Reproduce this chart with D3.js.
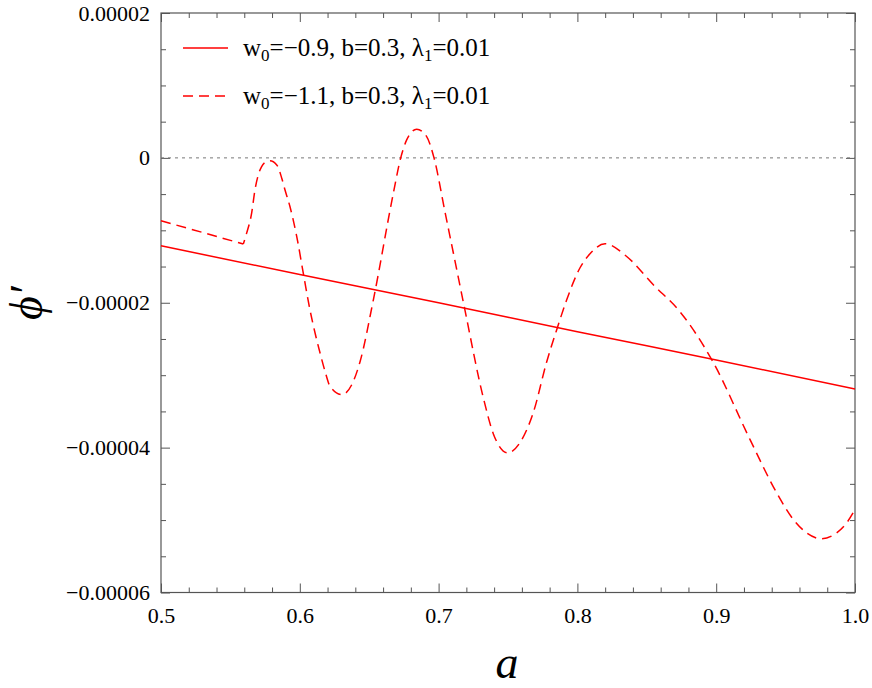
<!DOCTYPE html>
<html>
<head>
<meta charset="utf-8">
<script src="https://cdn.jsdelivr.net/npm/d3@7"></script>
<style>
  body { margin: 0; background: #fff; }
  svg text { font-family: "Liberation Serif", "DejaVu Serif", serif; fill: #000; }
</style>
</head>
<body>
<div id="chart"></div>
<script>
// values, phi' in units of 1e-5
const unit = 1e-5;

const solidA = [0.5, 0.6, 0.7, 0.8, 0.9, 1.0];
const solidV = [-1.214, -1.61, -2.00, -2.40, -2.79, -3.19];

// dashed curve: straight piece up to the kink, then the oscillation
const dashHeadA = [0.5, 0.53, 0.5593];
const dashHeadV = [-0.869, -1.03, -1.19];
const dashA = [0.5593, 0.5617, 0.5653, 0.5677, 0.5701, 0.5725, 0.5762, 0.5785, 0.5834, 0.587, 0.5893,
  0.5929, 0.5978, 0.6025, 0.6073, 0.611, 0.6146, 0.6182, 0.6218, 0.6302, 0.6385, 0.6434, 0.653, 0.6674,
  0.6727, 0.677, 0.6842, 0.6914, 0.6967, 0.7046, 0.7106, 0.7185, 0.7322, 0.7394, 0.7498, 0.7586, 0.7682,
  0.7779, 0.7851, 0.7923, 0.8019, 0.8091, 0.8199, 0.8355, 0.8547, 0.8739, 0.8976, 0.9244, 0.9436, 0.9556,
  0.9652, 0.976, 0.9868, 0.994, 1.0];
const dashV = [-1.19, -1.039, -0.763, -0.441, -0.234, -0.12, -0.051, -0.041, -0.097, -0.28, -0.441,
  -0.672, -1.086, -1.59, -2.097, -2.418, -2.694, -2.948, -3.154, -3.269, -3.088, -2.814, -1.959, -0.487,
  0, 0.248, 0.396, 0.294, 0, -0.745, -1.31, -2.055, -3.31, -3.807, -4.073, -3.931, -3.517,
  -2.814, -2.372, -1.959, -1.517, -1.324, -1.186, -1.361, -1.752, -2.124, -2.814, -3.89, -4.625, -4.993,
  -5.177, -5.259, -5.177, -5.039, -4.855];

const xTicks = [0.5, 0.6, 0.7, 0.8, 0.9, 1.0];
const xTickLabels = ["0.5", "0.6", "0.7", "0.8", "0.9", "1.0"];
const yTicks = [2, 0, -2, -4, -6];
const yTickLabels = ["0.00002", "0", "\u22120.00002", "\u22120.00004", "\u22120.00006"];

const width = 872, height = 688;
const plotLeft = 161, plotRight = 855, plotTop = 13, plotBottom = 592.5;
const serif = '"Liberation Serif", "DejaVu Serif", serif';
const red = "#ff0000";
const dashPattern = "10,6";

let svg = d3.select("#chart").append("svg")
    .attr("width", width).attr("height", height);

let x = d3.scaleLinear().domain([0.5, 1.0]).range([plotLeft, plotRight]);
let y = d3.scaleLinear().domain([-6 * unit, 2 * unit]).range([plotBottom, plotTop]);

const minorX = d3.range(0.5, 1.0001, 0.02).filter(v => Math.abs(v * 10 - Math.round(v * 10)) > 1e-6);
const minorY = d3.range(-6, 2.0001, 0.5).filter(v => v % 2 !== 0).map(v => v * unit);
const axisColor = "#555";

function styleAxis(g) {
    g.attr("font-family", serif).attr("font-size", 22);
    g.select(".domain").remove();
    g.selectAll("line").attr("stroke", axisColor).attr("stroke-width", 1);
    g.selectAll("text").style("font-family", serif).style("font-size", "22px");
}

// major ticks with labels
svg.append("g").attr("transform", `translate(0,${plotBottom})`)
    .call(d3.axisBottom(x).tickValues(xTicks).tickSize(-9).tickPadding(15)
        .tickFormat((d, i) => xTickLabels[i]))
    .call(styleAxis);
svg.append("g").attr("transform", `translate(${plotLeft},0)`)
    .call(d3.axisLeft(y).tickValues(yTicks.map(v => v * unit)).tickSize(-9).tickPadding(11)
        .tickFormat((d, i) => yTickLabels[i]))
    .call(styleAxis);
svg.append("g").attr("transform", `translate(0,${plotTop})`)
    .call(d3.axisTop(x).tickValues(xTicks).tickSize(-9).tickFormat(""))
    .call(styleAxis);
svg.append("g").attr("transform", `translate(${plotRight},0)`)
    .call(d3.axisRight(y).tickValues(yTicks.map(v => v * unit)).tickSize(-9).tickFormat(""))
    .call(styleAxis);

// minor ticks
svg.append("g").attr("transform", `translate(0,${plotBottom})`)
    .call(d3.axisBottom(x).tickValues(minorX).tickSize(-5).tickFormat("")).call(styleAxis);
svg.append("g").attr("transform", `translate(0,${plotTop})`)
    .call(d3.axisTop(x).tickValues(minorX).tickSize(-5).tickFormat("")).call(styleAxis);
svg.append("g").attr("transform", `translate(${plotLeft},0)`)
    .call(d3.axisLeft(y).tickValues(minorY).tickSize(-5).tickFormat("")).call(styleAxis);
svg.append("g").attr("transform", `translate(${plotRight},0)`)
    .call(d3.axisRight(y).tickValues(minorY).tickSize(-5).tickFormat("")).call(styleAxis);

// frame
svg.append("rect")
    .attr("x", plotLeft).attr("y", plotTop)
    .attr("width", plotRight - plotLeft).attr("height", plotBottom - plotTop)
    .attr("fill", "none").attr("stroke", axisColor).attr("stroke-width", 1.2);

// zero line
svg.append("line")
    .attr("x1", x(0.5)).attr("x2", x(1.0))
    .attr("y1", y(0)).attr("y2", y(0))
    .attr("stroke", "#777").attr("stroke-width", 1)
    .attr("stroke-dasharray", "3,4");

let line = d3.line()
    .x(d => x(d[0]))
    .y(d => y(d[1] * unit))
    .curve(d3.curveMonotoneX);

svg.append("path")
    .datum(solidA.map((a, i) => [a, solidV[i]]))
    .attr("d", line)
    .attr("fill", "none").attr("stroke", red).attr("stroke-width", 1.5);

// dashed: two pieces so the kink stays sharp, dash pattern carried over
let head = svg.append("path")
    .datum(dashHeadA.map((a, i) => [a, dashHeadV[i]]))
    .attr("d", line)
    .attr("fill", "none").attr("stroke", red).attr("stroke-width", 1.5)
    .attr("stroke-dasharray", dashPattern);
let headLen = head.node().getTotalLength();

svg.append("path")
    .datum(dashA.map((a, i) => [a, dashV[i]]))
    .attr("d", line)
    .attr("fill", "none").attr("stroke", red).attr("stroke-width", 1.5)
    .attr("stroke-dasharray", dashPattern)
    .attr("stroke-dashoffset", headLen);

// legend
const legendW0 = ["\u22120.9", "\u22121.1"];
const legendDash = [null, dashPattern];
legendW0.forEach(function (w, i) {
    let ly = 48 + i * 48;
    svg.append("line")
        .attr("x1", 183).attr("x2", 228).attr("y1", ly).attr("y2", ly)
        .attr("stroke", red).attr("stroke-width", 1.5)
        .attr("stroke-dasharray", legendDash[i]);
    let t = svg.append("text").attr("x", 243).attr("y", ly + 8).attr("font-size", 25);
    t.append("tspan").text("w");
    t.append("tspan").attr("font-size", 17).attr("dy", 5).text("0");
    t.append("tspan").attr("dy", -5).text("=" + w + ", b=0.3, \u03bb");
    t.append("tspan").attr("font-size", 17).attr("dy", 5).text("1");
    t.append("tspan").attr("dy", -5).text("=0.01");
});

// axis titles
svg.append("text")
    .attr("x", 507).attr("y", 678)
    .attr("text-anchor", "middle")
    .attr("font-size", 46).attr("font-style", "italic")
    .text("a");

svg.append("text")
    .attr("transform", "translate(42,303) rotate(-90)")
    .attr("text-anchor", "middle")
    .attr("font-size", 46).attr("font-style", "italic")
    .text("\u03d5\u2032");
</script>
</body>
</html>
